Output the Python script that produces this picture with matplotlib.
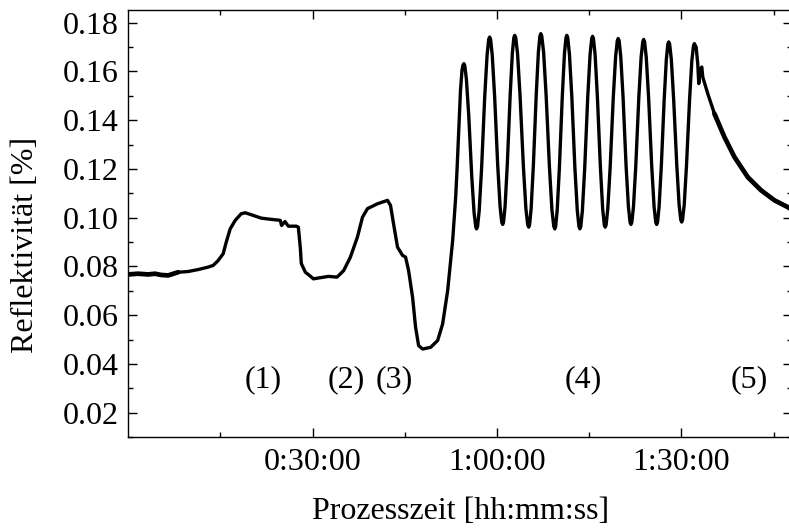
import numpy as np
import matplotlib.pyplot as plt
from matplotlib.ticker import MultipleLocator, FixedLocator, FixedFormatter

plt.rcParams['font.family'] = ['Liberation Serif', 'DejaVu Serif']

# Prozesszeit in Minuten, Reflektivitaet in %
t_start = [0.00, 1.58, 3.21, 4.35, 5.30, 6.48, 8.10, 9.73, 11.36, 12.99,
           13.81, 14.62, 15.44, 15.93, 16.58, 17.40, 18.37, 19.03, 20.00,
           21.63, 23.26, 24.73, 24.94, 25.50, 26.04, 27.34, 27.67, 28.00,
           28.15, 28.81, 29.62, 30.11, 32.56, 33.97, 35.05, 36.14, 37.28,
           38.11, 38.92, 40.55, 42.18, 42.67, 43.16, 43.81, 44.63, 45.12,
           45.61, 46.26, 46.75, 47.24, 47.89, 49.20, 50.34, 51.15, 51.97,
           52.78, 53.27, 53.50, 54.05, 54.30, 54.45]
r_start = [0.0767, 0.0770, 0.0767, 0.0770, 0.0765, 0.0763, 0.0776, 0.0779,
           0.0787, 0.0797, 0.0804, 0.0824, 0.0852, 0.0899, 0.0954, 0.0989,
           0.1016, 0.1020, 0.1012, 0.0998, 0.0993, 0.0989, 0.0968, 0.0984,
           0.0965, 0.0965, 0.0961, 0.0874, 0.0812, 0.0776, 0.0760, 0.0749,
           0.0759, 0.0756, 0.0783, 0.0838, 0.0920, 0.1002, 0.1037, 0.1057,
           0.1071, 0.1050, 0.0975, 0.0879, 0.0845, 0.0838, 0.0783, 0.0673,
           0.0550, 0.0475, 0.0461, 0.0468, 0.0496, 0.0564, 0.0701, 0.0906,
           0.1084, 0.1200, 0.1520, 0.1605, 0.1625]

t_osz = [54.61, 54.75, 55.02, 55.40, 55.89, 56.27, 56.54,
         56.68, 56.83, 57.10, 57.49, 57.99, 58.38, 58.65,
         58.80, 58.95, 59.22, 59.61, 60.11, 60.50, 60.77,
         60.92, 61.06, 61.31, 61.67, 62.14, 62.49, 62.74,
         62.88, 63.04, 63.34, 63.75, 64.29, 64.70, 65.00,
         65.16, 65.30, 65.55, 65.91, 66.38, 66.73, 66.98,
         67.12, 67.28, 67.58, 67.99, 68.53, 68.94, 69.24,
         69.40, 69.54, 69.79, 70.15, 70.62, 70.97, 71.22,
         71.36, 71.51, 71.78, 72.17, 72.67, 73.06, 73.33,
         73.48, 73.63, 73.89, 74.27, 74.76, 75.14, 75.41,
         75.55, 75.69, 75.96, 76.33, 76.82, 77.19, 77.46,
         77.60, 77.75, 78.02, 78.41, 78.91, 79.30, 79.57,
         79.72, 79.87, 80.13, 80.51, 81.00, 81.38, 81.65,
         81.79, 81.94, 82.20, 82.58, 83.07, 83.45, 83.72,
         83.86, 84.01, 84.28, 84.67, 85.17, 85.56, 85.83,
         85.98, 86.12, 86.37, 86.73, 87.20, 87.55, 87.80,
         87.94, 88.09, 88.36, 88.74, 89.25, 89.63, 89.90,
         90.05, 90.19, 90.46, 90.83, 91.33, 91.70, 91.97]
r_osz = [0.1632, 0.1624, 0.1567, 0.1418, 0.1168, 0.1019, 0.0962,
         0.0954, 0.0963, 0.1029, 0.1203, 0.1492, 0.1666, 0.1732,
         0.1741, 0.1732, 0.1668, 0.1498, 0.1215, 0.1045, 0.0981,
         0.0972, 0.0981, 0.1046, 0.1217, 0.1503, 0.1674, 0.1739,
         0.1748, 0.1739, 0.1673, 0.1499, 0.1210, 0.1036, 0.0970,
         0.0961, 0.0971, 0.1037, 0.1212, 0.1504, 0.1679, 0.1745,
         0.1755, 0.1745, 0.1679, 0.1502, 0.1207, 0.1030, 0.0964,
         0.0954, 0.0964, 0.1030, 0.1205, 0.1497, 0.1672, 0.1738,
         0.1748, 0.1738, 0.1672, 0.1497, 0.1205, 0.1030, 0.0964,
         0.0954, 0.0963, 0.1029, 0.1204, 0.1494, 0.1669, 0.1735,
         0.1744, 0.1735, 0.1669, 0.1497, 0.1208, 0.1036, 0.0970,
         0.0961, 0.0970, 0.1035, 0.1206, 0.1490, 0.1661, 0.1726,
         0.1735, 0.1726, 0.1662, 0.1494, 0.1213, 0.1045, 0.0981,
         0.0972, 0.0981, 0.1044, 0.1212, 0.1491, 0.1659, 0.1722,
         0.1731, 0.1722, 0.1659, 0.1491, 0.1212, 0.1044, 0.0981,
         0.0972, 0.0981, 0.1044, 0.1209, 0.1484, 0.1649, 0.1712,
         0.1721, 0.1712, 0.1650, 0.1487, 0.1216, 0.1053, 0.0991,
         0.0982, 0.0991, 0.1052, 0.1213, 0.1483, 0.1644, 0.1705]

# Abklingen (5)
t_end = [92.11, 92.40, 92.66, 92.83, 93.04, 93.32, 93.48, 94.29, 95.37,
         97.00, 98.63, 100.81, 102.98, 105.15, 107.33, 108.00]
r_end = [0.1714, 0.1700, 0.1632, 0.1550, 0.1605, 0.1618, 0.1577, 0.1509,
         0.1427, 0.1331, 0.1249, 0.1166, 0.1112, 0.1071, 0.1043, 0.1033]

zeit = np.array(t_start + t_osz + t_end)
refl = np.array(r_start + r_osz + r_end)

phasen = ['(1)', '(2)', '(3)', '(4)', '(5)']
phasen_t = [22.0, 35.5, 43.2, 74.1, 101.1]

xticks = [30, 60, 90]
xticklabels = ['0:30:00', '1:00:00', '1:30:00']

fs = 23
fig = plt.figure(figsize=(7.89, 5.32), dpi=100)
ax = fig.add_axes([128.3/789, 95/532, 663.7/789, 427/532])
ax.plot(zeit, refl, color='black', linewidth=2.4, solid_joinstyle='round')
# verrauschte Abschnitte erscheinen im Original dicker
rausch = (zeit <= 8.1) | (zeit >= 95.0)
ax.plot(np.where(rausch, zeit, np.nan), refl, color='black', linewidth=3.4,
        solid_capstyle='round')

for lab, tx in zip(phasen, phasen_t):
    ax.text(tx, 0.0335, lab, ha='center', va='center', fontsize=fs)

ax.set_xlim(0, 108)
ax.set_ylim(0.01, 0.1852)
ax.xaxis.set_major_locator(FixedLocator(xticks))
ax.xaxis.set_major_formatter(FixedFormatter(xticklabels))
ax.xaxis.set_minor_locator(FixedLocator([15, 45, 75, 105]))
ax.yaxis.set_major_locator(MultipleLocator(0.02))
ax.yaxis.set_minor_locator(MultipleLocator(0.01))
ax.yaxis.set_major_formatter(plt.FormatStrFormatter('%.2f'))

ax.tick_params(which='both', direction='in', top=True, right=True,
               width=1.0, labelsize=fs)
ax.tick_params(which='major', length=6.5)
ax.tick_params(which='minor', length=3.6)
ax.tick_params(axis='y', pad=7)
ax.tick_params(axis='x', pad=8)
for sp in ax.spines.values():
    sp.set_linewidth(1.0)

ax.set_xlabel('Prozesszeit [hh:mm:ss]', fontsize=fs)
ax.set_ylabel('Reflektivität [%]', fontsize=fs)
ax.xaxis.set_label_coords(0.5, -0.14)
ax.yaxis.set_label_coords(-0.133, 0.45)

plt.savefig('out.png', dpi=100)
